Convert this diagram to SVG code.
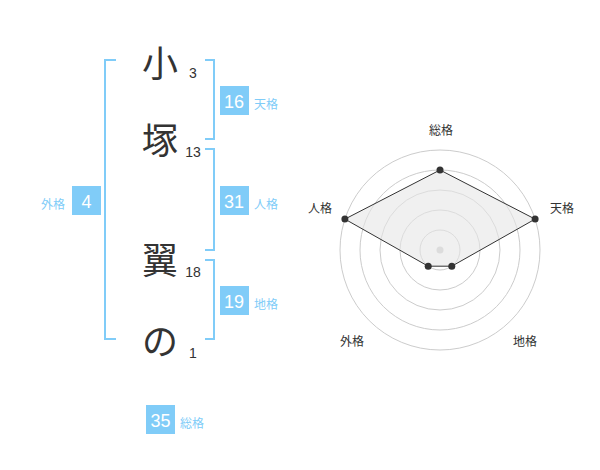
<svg xmlns="http://www.w3.org/2000/svg" width="600" height="470" viewBox="0 0 600 470">
<style>
.br{fill:none;stroke:#80ccf8;stroke-width:2}
.ch{font-family:"Noto Sans CJK JP","Noto Sans",sans-serif;font-size:36px;fill:#333;text-anchor:middle}
.st{font-family:"Liberation Sans",Arial,sans-serif;font-size:14px;fill:#333;text-anchor:middle}
.bx{fill:#80ccf8}
.bn{font-family:"Liberation Sans",Arial,sans-serif;font-size:18px;fill:#fff;text-anchor:middle}
.bl{font-family:"Noto Sans CJK JP",sans-serif;font-size:12px;fill:#80ccf8}
.rl{font-family:"Noto Sans CJK JP",sans-serif;font-size:12px;fill:#333;text-anchor:middle}
.ring{fill:none;stroke:#cccccc;stroke-width:1}
.pt{fill:#333}
</style>
<rect width="600" height="470" fill="#fff"/>
<g id="connectors">
<path class="br" d="M116,60H105V339H116"/>
<path class="br" d="M205,60H214V139H205"/>
<path class="br" d="M205,149H214V250H205"/>
<path class="br" d="M205,260H214V339H205"/>
</g>
<g id="char-1"><text class="ch" x="160" y="77">小</text><text class="st" x="193" y="78">3</text></g>
<g id="char-2"><text class="ch" x="160" y="154">塚</text><text class="st" x="193" y="157">13</text></g>
<g id="char-3"><text class="ch" x="160" y="274">翼</text><text class="st" x="193" y="277">18</text></g>
<g id="char-4"><text class="ch" x="160" y="355">の</text><text class="st" x="193" y="358">1</text></g>
<g id="tenkaku"><rect class="bx" x="220" y="86" width="29" height="29"/><text class="bn" x="234" y="108">16</text><text class="bl" x="254" y="109">天格</text></g>
<g id="jinkaku"><rect class="bx" x="220" y="186" width="29" height="29"/><text class="bn" x="234" y="208">31</text><text class="bl" x="254" y="209">人格</text></g>
<g id="chikaku"><rect class="bx" x="220" y="286" width="29" height="29"/><text class="bn" x="234" y="308">19</text><text class="bl" x="254" y="309">地格</text></g>
<g id="gaikaku"><rect class="bx" x="72" y="186" width="29" height="29"/><text class="bn" x="86.5" y="208">4</text><text class="bl" x="41" y="209">外格</text></g>
<g id="soukaku"><rect class="bx" x="146" y="405" width="29" height="29"/><text class="bn" x="160.5" y="427">35</text><text class="bl" x="180" y="428">総格</text></g>
<g id="radar">
<circle class="ring" cx="440" cy="250" r="20"/>
<circle class="ring" cx="440" cy="250" r="40"/>
<circle class="ring" cx="440" cy="250" r="60"/>
<circle class="ring" cx="440" cy="250" r="80"/>
<circle class="ring" cx="440" cy="250" r="100"/>
<circle cx="440" cy="250" r="3.5" fill="#cccccc"/>
<polygon points="440,170 535.1,219.1 451.8,266.2 428.2,266.2 344.9,219.1" fill="#e6e6e6" fill-opacity="0.6" stroke="#333" stroke-width="1"/>
<circle class="pt" cx="440" cy="170" r="3.5"/>
<circle class="pt" cx="535.1" cy="219.1" r="3.5"/>
<circle class="pt" cx="451.8" cy="266.2" r="3.5"/>
<circle class="pt" cx="428.2" cy="266.2" r="3.5"/>
<circle class="pt" cx="344.9" cy="219.1" r="3.5"/>
<text class="rl" x="441" y="135">総格</text>
<text class="rl" x="562" y="213">天格</text>
<text class="rl" x="320" y="213">人格</text>
<text class="rl" x="352" y="346">外格</text>
<text class="rl" x="525" y="346">地格</text>
</g>
</svg>
